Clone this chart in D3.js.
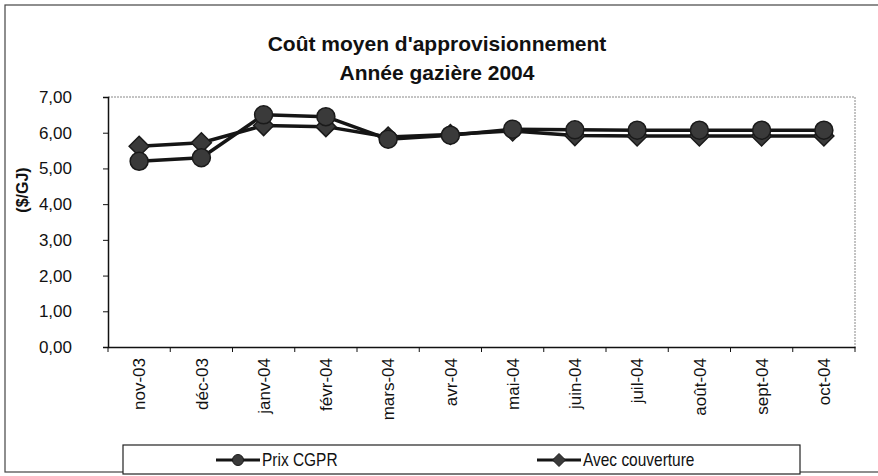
<!DOCTYPE html>
<html>
<head>
<meta charset="utf-8">
<script src="https://cdn.jsdelivr.net/npm/d3@7"></script>
<style>
  body { margin: 0; background: #fff; }
  svg { display: block; }
  text { font-family: "Liberation Sans", Arial, sans-serif; fill: #111; }
</style>
</head>
<body>
<div id="chart"></div>
<script>
// data
const months = ['nov-03', 'déc-03', 'janv-04', 'févr-04', 'mars-04', 'avr-04',
  'mai-04', 'juin-04', 'juil-04', 'août-04', 'sept-04', 'oct-04'];
const prixCGPR = [5.20, 5.30, 6.50, 6.45, 5.82, 5.93, 6.10, 6.08, 6.07, 6.07, 6.07, 6.07];
const avecCouverture = [5.62, 5.72, 6.20, 6.17, 5.88, 5.95, 6.05, 5.92, 5.91, 5.91, 5.91, 5.91];
const yTicks = [0, 1, 2, 3, 4, 5, 6, 7];
const seriesNames = ['Prix CGPR', 'Avec couverture'];

const WIDTH = 878;
const HEIGHT = 476;
const MARGIN_TOP = 97;
const MARGIN_LEFT = 108;
const MARGIN_RIGHT = 23;
const MARGIN_BOTTOM = 129;

const innerW = WIDTH - MARGIN_LEFT - MARGIN_RIGHT;
const innerH = HEIGHT - MARGIN_TOP - MARGIN_BOTTOM;

const $svg = d3.select('#chart').append('svg')
  .attr('width', WIDTH)
  .attr('height', HEIGHT);

// outer frame
$svg.append('rect')
  .attr('x', 5).attr('y', 5)
  .attr('width', WIDTH + 10).attr('height', HEIGHT - 9)
  .attr('fill', 'none')
  .attr('stroke', '#444')
  .attr('stroke-width', 1.2);

// title
const $title = $svg.append('g')
  .attr('transform', 'translate(437, 0)')
  .style('font-weight', 'bold')
  .style('font-size', '21px')
  .attr('text-anchor', 'middle');
$title.append('text').attr('y', 51).text("Coût moyen d'approvisionnement");
$title.append('text').attr('y', 80).text('Année gazière 2004');

// scales
const scaleX = d3.scaleBand()
  .domain(months)
  .range([0, innerW])
  .padding(0);

const scaleY = d3.scaleLinear()
  .domain([0, 7])
  .range([innerH, 0]);

const $vis = $svg.append('g')
  .attr('transform', `translate(${MARGIN_LEFT}, ${MARGIN_TOP})`);

// plot area border (top and right, dotted)
$vis.append('path')
  .attr('d', `M0,0H${innerW}V${innerH}`)
  .attr('fill', 'none')
  .attr('stroke', '#888')
  .attr('stroke-width', 1)
  .attr('stroke-dasharray', '2,1');

// y axis
const axisY = $vis.append('g')
  .call(d3.axisLeft(scaleY)
    .tickValues(yTicks)
    .tickSize(5)
    .tickPadding(31)
    .tickFormat(d => d3.format('.2f')(d).replace('.', ',')));
axisY.select('.domain').attr('stroke', '#111').attr('stroke-width', 1.5);
axisY.selectAll('.tick line').attr('stroke', '#111');
axisY.selectAll('.tick text')
  .style('font-size', '17px')
  .attr('fill', '#111');

// x axis
const axisX = $vis.append('g')
  .attr('transform', `translate(0, ${innerH})`)
  .call(d3.axisBottom(scaleX).tickSize(0).tickPadding(0));
axisX.select('.domain').attr('stroke', '#111').attr('stroke-width', 1.5);
axisX.selectAll('.tick text')
  .attr('transform', 'rotate(-90)')
  .attr('x', -11)
  .attr('y', 0)
  .attr('dy', '0.36em')
  .style('text-anchor', 'end')
  .style('font-size', '17px')
  .attr('fill', '#111');

// ticks between categories
const boundaries = months.map(m => scaleX(m)).concat([innerW]);
axisX.selectAll('.bound')
  .data(boundaries)
  .join('line')
  .attr('class', 'bound')
  .attr('x1', d => d).attr('x2', d => d)
  .attr('y1', 0).attr('y2', 5)
  .attr('stroke', '#111');

// y axis title
$svg.append('text')
  .attr('transform', 'translate(28, 190) rotate(-90)')
  .attr('text-anchor', 'middle')
  .style('font-weight', 'bold')
  .style('font-size', '16px')
  .text('($/GJ)');

// lines
const cx = d => scaleX(d) + scaleX.bandwidth() / 2;
const line = d3.line()
  .x((d, i) => cx(months[i]))
  .y(d => scaleY(d));

const diamond = r => `M0,${-r}L${r},0L0,${r}L${-r},0Z`;

function drawSeries(values, kind) {
  const $g = $vis.append('g');
  $g.append('path')
    .datum(values)
    .attr('d', line)
    .attr('fill', 'none')
    .attr('stroke', '#151515')
    .attr('stroke-width', 3.5)
    .attr('stroke-linejoin', 'round');
  const $m = $g.selectAll('.mark')
    .data(values)
    .join(kind === 'circle' ? 'circle' : 'path')
    .attr('class', 'mark')
    .attr('fill', '#3a3a3a')
    .attr('stroke', '#1a1a1a')
    .attr('stroke-width', 1.5);
  if (kind === 'circle') {
    $m.attr('cx', (d, i) => cx(months[i]))
      .attr('cy', d => scaleY(d))
      .attr('r', 9);
  } else {
    $m.attr('d', diamond(10))
      .attr('transform', (d, i) => `translate(${cx(months[i])}, ${scaleY(d)})`);
  }
}

drawSeries(avecCouverture, 'diamond');
drawSeries(prixCGPR, 'circle');

// legend
const $legend = $svg.append('g');
$legend.append('rect')
  .attr('x', 123).attr('y', 445)
  .attr('width', 677).attr('height', 29)
  .attr('fill', '#fff')
  .attr('stroke', '#222')
  .attr('stroke-width', 1.2);

const legendItems = [
  { name: seriesNames[0], x: 216, kind: 'circle' },
  { name: seriesNames[1], x: 537, kind: 'diamond' }
];
legendItems.forEach(it => {
  const $it = $legend.append('g').attr('transform', `translate(${it.x}, 460)`);
  $it.append('line')
    .attr('x1', 0).attr('x2', 44)
    .attr('stroke', '#151515').attr('stroke-width', 3);
  if (it.kind === 'circle') {
    $it.append('circle').attr('cx', 22).attr('r', 5.5)
      .attr('fill', '#3a3a3a').attr('stroke', '#1a1a1a');
  } else {
    $it.append('path').attr('d', diamond(6.5))
      .attr('transform', 'translate(22,0)')
      .attr('fill', '#3a3a3a').attr('stroke', '#1a1a1a');
  }
  // narrow face, like the original legend
  $it.append('text')
    .attr('transform', 'translate(46,0) scale(0.86,1)')
    .attr('dy', '0.36em')
    .style('font-size', '18px')
    .text(it.name);
});
</script>
</body>
</html>
